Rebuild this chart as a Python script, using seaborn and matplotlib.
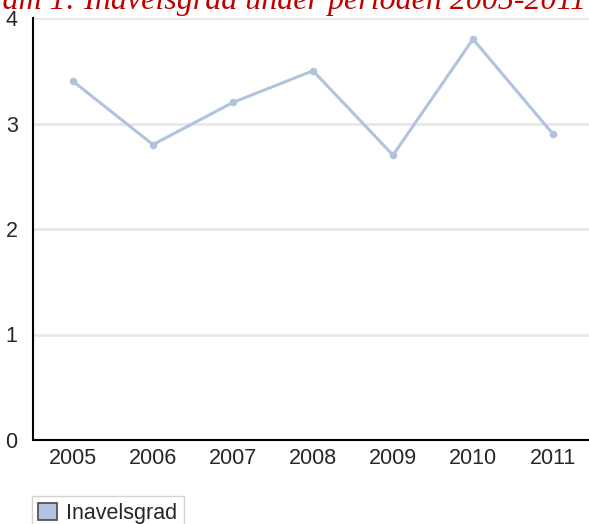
import numpy as np
import pandas as pd
import matplotlib
matplotlib.use("Agg")
import matplotlib.pyplot as plt
from matplotlib.patches import Patch
import seaborn as sns

# Data
years = ["2005", "2006", "2007", "2008", "2009", "2010", "2011"]
inavelsgrad = [3.4, 2.8, 3.2, 3.5, 2.7, 3.8, 2.9]
y_ticks = [0, 1, 2, 3, 4]
title = "Diagram 1: Inavelsgrad under perioden 2005-2011"

df = pd.DataFrame({"year": years, "value": inavelsgrad})

sns.set_style("white")
plt.rcParams["font.family"] = ["Liberation Sans", "DejaVu Sans"]

line_col = "#b0c4de"
W, H = 589, 524

fig = plt.figure(figsize=(W / 100, H / 100), dpi=100)
ax = fig.add_axes([33 / W, 84 / H, 1 - 33 / W, (440 - 18) / H])

sns.lineplot(data=df, x="year", y="value", ax=ax, color=line_col,
             linewidth=2.2, marker="o", markersize=5.5, markeredgewidth=0)

ax.set_xlim(-0.5, 6.45)
ax.set_ylim(0, 4)
ax.set_yticks(y_ticks)
ax.set_yticklabels([str(t) for t in y_ticks])
for t in y_ticks[1:]:
    ax.axhline(t, color="#e8e8e8", linewidth=2, zorder=0)

ax.set_xlabel("")
ax.set_ylabel("")
for side in ["top", "right"]:
    ax.spines[side].set_visible(False)
for side in ["left", "bottom"]:
    ax.spines[side].set_color("black")
    ax.spines[side].set_linewidth(1.5)
ax.tick_params(axis="x", direction="in", length=6, width=1.2, color="black",
               labelsize=15.5, pad=6)
ax.tick_params(axis="y", length=0, labelsize=15.5, pad=11)

# Title is partly cut off at the top of the image, as in the source.
# Place it so that the first "2005" ends at about x=512 px.
tkw = dict(color="#c00000", fontsize=23, style="italic",
           family=["Liberation Serif", "DejaVu Serif"], va="baseline", ha="left")
renderer = fig.canvas.get_renderer()
probe = fig.text(0, 0, title[:title.index("2005") + 4], **tkw)
w = probe.get_window_extent(renderer).width
probe.remove()
fig.text((514 - w) / W, 1 - 9 / H, title, **tkw)

handle = Patch(facecolor=line_col, edgecolor="#4a4a4a", linewidth=1.2)
fig.legend(handles=[handle], labels=["Inavelsgrad"], loc="lower left",
           bbox_to_anchor=(32 / W, -0.012), frameon=True, fancybox=False,
           edgecolor="#c8c8c8", fontsize=15.5, handlelength=0.85,
           handleheight=0.85, handletextpad=0.45, borderpad=0.3,
           borderaxespad=0.0)

fig.savefig("out.png", dpi=100)
